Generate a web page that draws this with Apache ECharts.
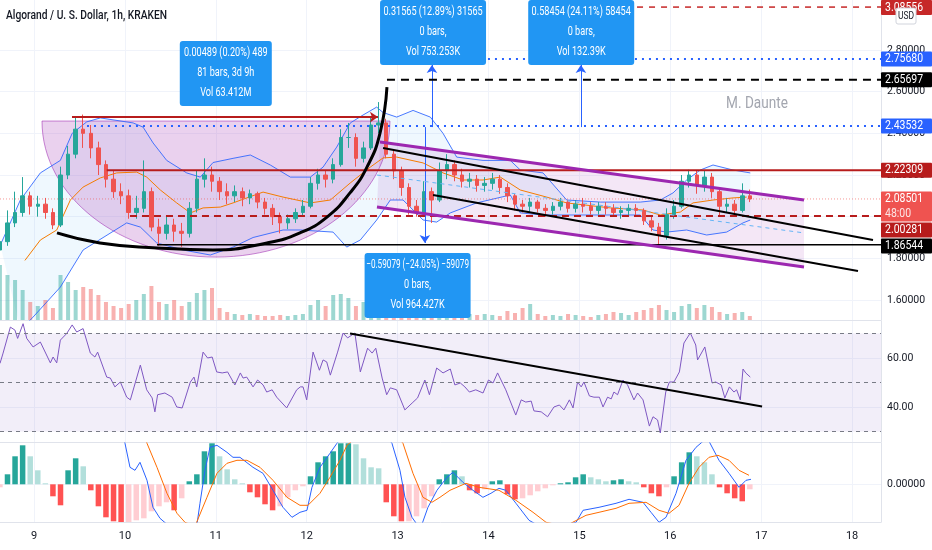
<!DOCTYPE html>
<html>
<head>
<meta charset="utf-8">
<script src="https://cdn.jsdelivr.net/npm/echarts@6/dist/echarts.min.js"></script>
<style>
  html, body { margin: 0; padding: 0; background: #fff; }
  #chart { width: 932px; height: 550px; }
</style>
</head>
<body>
<div id="chart"></div>
<script>
var FONT = "Roboto, 'Noto Sans', sans-serif";
var NARROW = 0.76;

// --- time axis (days of the month) ---
var xMin = 8.626, xMax = 18.318;
var dayTicks = [9, 10, 11, 12, 13, 14, 15, 16, 17, 18];
var firstBar = 8.625, barStep = 1 / 12;   // 2h bars

// --- value axes ---
var priceTicks = [1.6, 1.8, 2.0, 2.2, 2.4, 2.6, 2.8];
var rsiTicks = [40, 60];
var rsiLevels = [70, 50, 30];
var macdTicks = [0];

// [open, close, low, high]
var candles = [
  [1.84, 1.88, 1.78, 1.92], [1.88, 1.97, 1.86, 2.03], [1.97, 2.02, 1.95, 2.12], [2.02, 2.10, 2.00, 2.19],
  [2.10, 2.05, 2.01, 2.12], [2.05, 2.06, 2.00, 2.10], [2.06, 2.02, 1.99, 2.09], [2.02, 1.96, 1.94, 2.04],
  [1.96, 2.20, 1.95, 2.24], [2.20, 2.30, 2.18, 2.34], [2.30, 2.42, 2.28, 2.48], [2.42, 2.40, 2.33, 2.49],
  [2.40, 2.33, 2.28, 2.44], [2.33, 2.25, 2.20, 2.36], [2.25, 2.18, 2.14, 2.27], [2.18, 2.12, 2.09, 2.22],
  [2.12, 2.10, 2.06, 2.16], [2.10, 2.02, 1.99, 2.13], [2.02, 2.04, 1.99, 2.10], [2.04, 2.12, 2.02, 2.27],
  [2.12, 1.95, 1.93, 2.14], [1.95, 1.92, 1.86, 1.99], [1.92, 1.96, 1.89, 2.00], [1.96, 1.93, 1.88, 1.99],
  [1.93, 1.92, 1.855, 1.97], [1.92, 2.04, 1.90, 2.07], [2.04, 2.18, 2.02, 2.22], [2.18, 2.20, 2.14, 2.28],
  [2.20, 2.17, 2.12, 2.24], [2.17, 2.12, 2.08, 2.19], [2.12, 2.10, 2.06, 2.16], [2.10, 2.12, 2.07, 2.15],
  [2.12, 2.09, 2.05, 2.14], [2.09, 2.11, 2.06, 2.13], [2.11, 2.07, 2.04, 2.12], [2.07, 2.04, 2.01, 2.09],
  [2.04, 2.00, 1.96, 2.06], [2.00, 1.97, 1.92, 2.02], [1.97, 1.99, 1.94, 2.01], [1.99, 2.02, 1.97, 2.04],
  [2.02, 2.05, 2.00, 2.08], [2.05, 2.16, 2.04, 2.19], [2.16, 2.20, 2.13, 2.23], [2.20, 2.18, 2.14, 2.22],
  [2.18, 2.25, 2.16, 2.28], [2.25, 2.38, 2.24, 2.42], [2.38, 2.38, 2.33, 2.45], [2.38, 2.28, 2.24, 2.40],
  [2.28, 2.33, 2.26, 2.36], [2.33, 2.44, 2.32, 2.48], [2.44, 2.45, 2.40, 2.55], [2.45, 2.30, 2.28, 2.47],
  [2.30, 2.22, 2.18, 2.32], [2.22, 2.14, 2.10, 2.24], [2.14, 2.05, 2.01, 2.16], [2.05, 2.02, 2.00, 2.08],
  [2.02, 2.12, 2.01, 2.17], [2.12, 2.08, 1.97, 2.14], [2.08, 2.22, 2.07, 2.26], [2.22, 2.25, 2.18, 2.30],
  [2.25, 2.20, 2.17, 2.27], [2.20, 2.17, 2.14, 2.23], [2.17, 2.18, 2.14, 2.21], [2.18, 2.15, 2.12, 2.20],
  [2.15, 2.16, 2.12, 2.19], [2.16, 2.18, 2.13, 2.21], [2.18, 2.14, 2.11, 2.20], [2.14, 2.10, 2.07, 2.16],
  [2.10, 2.06, 2.03, 2.11], [2.06, 2.05, 2.02, 2.08], [2.05, 2.07, 2.02, 2.09], [2.07, 2.04, 2.02, 2.08],
  [2.04, 2.03, 2.00, 2.06], [2.03, 2.05, 2.01, 2.07], [2.05, 2.07, 2.03, 2.09], [2.07, 2.04, 2.02, 2.08],
  [2.04, 2.06, 2.02, 2.08], [2.06, 2.05, 2.02, 2.09], [2.05, 2.03, 2.01, 2.07], [2.03, 2.05, 2.01, 2.07],
  [2.05, 2.04, 2.01, 2.07], [2.04, 2.02, 2.00, 2.06], [2.02, 2.03, 1.99, 2.05], [2.03, 2.04, 2.00, 2.06],
  [2.04, 2.03, 2.00, 2.06], [2.03, 1.98, 1.96, 2.04], [1.98, 1.95, 1.93, 2.00], [1.95, 1.91, 1.855, 1.97],
  [1.91, 2.01, 1.89, 2.04], [2.01, 2.05, 1.99, 2.08], [2.05, 2.17, 2.04, 2.20], [2.17, 2.20, 2.14, 2.225],
  [2.20, 2.15, 2.11, 2.22], [2.15, 2.19, 2.12, 2.22], [2.19, 2.12, 2.09, 2.21], [2.12, 2.05, 2.00, 2.13],
  [2.05, 2.06, 2.02, 2.09], [2.06, 2.03, 2.00, 2.08], [2.03, 2.10, 2.02, 2.16], [2.10, 2.085, 2.07, 2.13]
];

// volume per bar, K
var volumes = [
  550, 450, 400, 300, 180, 140, 200, 120, 450, 380,
  300, 330, 310, 250, 180, 140, 120, 160, 200, 260,
  340, 180, 160, 200, 140, 180, 270, 300, 320, 120,
  80, 60, 50, 60, 50, 40, 40, 50, 40, 50,
  60, 150, 200, 140, 250, 260, 220, 140, 180, 300,
  280, 200, 180, 140, 120, 100, 220, 160, 180, 140,
  120, 80, 60, 50, 60, 50, 40, 90, 70, 120,
  160, 60, 40, 50, 40, 60, 50, 40, 30, 50,
  60, 80, 70, 50, 80, 100, 120, 150, 100, 80,
  140, 160, 120, 150, 130, 80, 60, 70, 80, 40
];

// MACD histogram per bar, x 0.001
var macdHist = [
  -3, 10, 28, 39, 28, 14, 1, -12, -21, 14,
  26, 18, -6, -22, -33, -37, -38, -38, -36, -34,
  -27, -22, -18, -26, -14, 3, 10, 33, 41, 28,
  15, 5, 1, -8, -13, -20, -26, -22, -13, -6,
  -2, 8, 22, 28, 33, 41, 41, 40, 26, 17,
  16, -18, -32, -37, -37, -32, -24, -12, 5, 10,
  14, 8, -6, -9, -5, 3, 4, -10, -15, -14,
  -11, -7, -4, -1, 1, 2, 7, 10, 7, 5,
  3, 4, 5, 3, 2, -3, -9, -12, -3, 8,
  22, 32, 28, 22, 10, -3, -9, -14, -17, -5
];

// Bollinger bands [day, price]
var bbUpper = [
  [8.63, 1.864], [8.85, 2.08], [9.07, 2.21], [9.29, 2.27], [9.42, 2.40], [9.58, 2.455], [9.73, 2.474],
  [10.09, 2.45], [10.20, 2.43], [10.31, 2.354], [10.46, 2.27], [10.68, 2.21], [10.83, 2.19], [10.97, 2.26],
  [11.19, 2.28], [11.38, 2.296], [11.60, 2.248], [11.82, 2.19], [12.04, 2.19], [12.18, 2.238], [12.33, 2.334],
  [12.48, 2.45], [12.62, 2.488], [12.77, 2.526], [12.84, 2.50], [12.99, 2.478], [13.17, 2.51], [13.36, 2.478],
  [13.50, 2.40], [13.65, 2.286], [13.94, 2.27], [14.24, 2.27], [14.35, 2.224], [14.60, 2.21], [14.86, 2.08],
  [15.23, 2.07], [15.67, 2.07], [15.89, 2.08], [16.03, 2.114], [16.18, 2.176], [16.33, 2.224], [16.47, 2.248],
  [16.69, 2.224], [16.88, 2.21]
];
var bbLower = [
  [8.85, 1.456], [8.99, 1.518], [9.29, 1.662], [9.54, 1.84], [10.02, 1.97], [10.17, 1.95], [10.35, 1.874],
  [10.64, 1.84], [10.94, 1.816], [11.19, 1.854], [11.41, 1.90], [11.74, 1.936], [11.93, 1.936], [12.29, 1.926],
  [12.44, 1.854], [12.59, 1.888], [12.77, 1.984], [12.92, 2.08], [13.06, 2.08], [13.28, 1.984], [13.43, 1.974],
  [13.58, 2.018], [13.87, 2.066], [14.24, 2.104], [14.35, 2.018], [14.60, 2.008], [14.93, 2.008], [15.67, 2.008],
  [15.81, 1.936], [15.96, 1.926], [16.18, 1.936], [16.40, 1.912], [16.62, 1.926], [16.80, 1.97], [16.88, 1.984]
];
var bbBasis = [
  [8.90, 1.79], [9.07, 1.888], [9.25, 1.936], [9.40, 2.08], [9.54, 2.142], [9.73, 2.186], [9.91, 2.21],
  [10.13, 2.214], [10.24, 2.19], [10.39, 2.128], [10.57, 2.066], [10.72, 2.018], [10.86, 2.042], [11.05, 2.046],
  [11.19, 2.066], [11.34, 2.09], [11.52, 2.118], [11.74, 2.094], [12.04, 2.066], [12.26, 2.08], [12.48, 2.162],
  [12.70, 2.238], [12.84, 2.282], [12.99, 2.286], [13.28, 2.258], [13.50, 2.21], [13.72, 2.176], [13.94, 2.176],
  [14.13, 2.19], [14.35, 2.128], [14.64, 2.094], [14.86, 2.066], [15.34, 2.042], [15.70, 2.032], [15.89, 2.008],
  [16.11, 2.022], [16.25, 2.066], [16.47, 2.08], [16.69, 2.09], [16.84, 2.094]
];

// RSI [day, value]
var rsiLine = [
  [8.626, 57.8], [8.66, 62], [8.74, 72.6], [8.79, 71.4], [8.82, 68], [8.88, 74], [8.92, 68], [8.99, 64.5],
  [9.07, 66.5], [9.18, 58], [9.21, 60.4], [9.25, 58], [9.29, 67.3], [9.36, 70], [9.42, 73.5], [9.47, 70.6],
  [9.54, 72], [9.62, 62], [9.67, 60.4], [9.70, 62.4], [9.80, 52.2], [9.84, 51.8], [9.89, 48.2], [9.95, 50.2],
  [10.02, 44], [10.06, 42.9], [10.17, 57.1], [10.24, 47], [10.30, 43.7], [10.33, 38], [10.36, 45], [10.44, 45.7],
  [10.52, 44], [10.57, 40], [10.63, 39.6], [10.72, 50.2], [10.76, 52.2], [10.79, 48.2], [10.86, 62.4], [10.91, 60],
  [10.96, 60.4], [11.01, 54.3], [11.07, 53.9], [11.13, 54.3], [11.21, 49], [11.27, 53.9], [11.30, 51.8], [11.34, 52.2],
  [11.41, 48.2], [11.46, 51], [11.52, 49], [11.56, 46.1], [11.62, 47], [11.67, 44], [11.78, 39.6], [11.89, 47],
  [11.93, 48.2], [11.96, 48.2], [12.00, 42.9], [12.07, 62.4], [12.14, 55], [12.18, 59.2], [12.22, 58.4], [12.26, 53],
  [12.34, 62.4], [12.40, 70.2], [12.45, 68.2], [12.53, 70.2], [12.59, 54.3], [12.67, 64], [12.72, 62], [12.76, 64],
  [12.83, 51.8], [12.88, 45], [12.92, 47.8], [12.99, 47], [13.08, 38.8], [13.16, 41.6], [13.22, 43.7], [13.30, 51],
  [13.35, 45], [13.43, 55.9], [13.50, 53.9], [13.58, 55.5], [13.63, 49], [13.69, 49.8], [13.74, 48.2], [13.79, 46.1],
  [13.86, 47], [13.94, 45.7], [14.00, 51], [14.05, 49.8], [14.10, 53.9], [14.19, 47], [14.30, 36.7], [14.36, 42.9],
  [14.41, 42], [14.47, 42.4], [14.50, 38.4], [14.58, 38], [14.65, 36], [14.72, 40], [14.78, 40.8], [14.83, 38.8],
  [14.89, 42.9], [14.93, 39.6], [14.98, 50.2], [15.02, 48.2], [15.05, 50.2], [15.11, 44.5], [15.16, 44], [15.22, 44],
  [15.26, 40], [15.31, 44], [15.35, 43.3], [15.38, 46.1], [15.42, 45], [15.48, 51], [15.53, 49], [15.60, 42.9],
  [15.64, 45.7], [15.70, 42.9], [15.77, 32.2], [15.81, 36], [15.86, 34.7], [15.89, 29.4], [15.95, 46.1], [15.99, 50.2],
  [16.04, 50.2], [16.10, 54.3], [16.15, 66.1], [16.22, 70.2], [16.28, 65.3], [16.30, 59.2], [16.38, 64.5], [16.46, 49.8],
  [16.50, 50.2], [16.56, 49], [16.60, 43.7], [16.65, 48.2], [16.70, 46.1], [16.73, 47], [16.77, 42.9], [16.80, 55.5],
  [16.83, 53.9], [16.88, 52.2]
];

// MACD and signal [day, x0.001]
var macdLine = [
  [8.626, 60], [9.946, 60], [10.001, 41], [10.056, 17], [10.111, 14], [10.166, 22], [10.243, 4], [10.309, -23],
  [10.386, -34], [10.463, -40], [10.606, -50], [10.793, -40], [10.826, -19], [10.881, 14], [10.936, 37], [11.013, 39],
  [11.123, 32], [11.189, 27], [11.266, 27], [11.409, 17], [11.519, 11], [11.629, -6], [11.739, -23], [11.838, -33],
  [11.926, -28], [12.003, -26], [12.058, -3], [12.146, 17], [12.256, 31], [12.333, 41], [12.476, 55], [12.806, 55],
  [12.938, 41], [13.026, 14], [13.081, -13], [13.158, -33], [13.213, -40], [13.268, -40], [13.334, -23], [13.433, -6],
  [13.543, 7], [13.609, 12], [13.719, 2], [13.829, -6], [13.939, -13], [14.027, -9], [14.115, -4], [14.192, -6],
  [14.302, -19], [14.446, -36], [14.622, -45], [14.963, -38], [15.040, -26], [15.216, -23], [15.403, -19], [15.546, -15],
  [15.700, -18], [15.788, -28], [15.876, -38], [15.953, -33], [16.063, -9], [16.173, 24], [16.283, 37], [16.360, 43],
  [16.426, 43], [16.536, 24], [16.646, 11], [16.756, -3], [16.833, 4], [16.888, 5]
];
var signalLine = [
  [8.626, 60], [10.166, 60], [10.243, 41], [10.353, 17], [10.463, -9], [10.573, -29], [10.661, -38], [10.771, -42],
  [10.903, -13], [11.013, 11], [11.123, 21], [11.233, 24], [11.343, 24], [11.486, 17], [11.629, 4], [11.783, -13],
  [11.926, -21], [12.014, -21], [12.146, -9], [12.256, 7], [12.366, 24], [12.443, 39], [12.586, 50], [12.971, 50],
  [13.059, 41], [13.169, 11], [13.279, -13], [13.378, -18], [13.466, -13], [13.576, -6], [13.752, 1], [13.895, -3],
  [14.115, -6], [14.302, -16], [14.490, -28], [14.633, -38], [14.842, -42], [15.073, -31], [15.216, -28], [15.403, -24],
  [15.546, -19], [15.733, -18], [15.876, -26], [15.986, -29], [16.096, -21], [16.206, 1], [16.316, 17], [16.426, 27],
  [16.525, 29], [16.646, 24], [16.756, 14], [16.866, 9]
];

// --- drawings on the price pane ---
var cupCurve = [
  [9.253, 1.922], [9.726, 1.874], [10.353, 1.85], [10.969, 1.84], [11.563, 1.874], [11.926, 1.922],
  [12.223, 1.998], [12.476, 2.114], [12.663, 2.238], [12.806, 2.40], [12.883, 2.622]
];
var cupArcLeft = [9.088, 2.459], cupArcBottom = [11.0, 1.806], cupArcRight = [12.916, 2.459];
var cupTop = [[9.418, 2.478], [12.784, 2.478]];
var channelTop = [[12.806, 2.358], [17.471, 2.08]];
var channelBottom = [[12.773, 2.046], [17.471, 1.758]];
var channelMid = [[12.773, 2.20], [17.471, 1.922]];
var trendUpper = [[12.84, 2.33], [18.23, 1.888]];
var trendLower = [[13.39, 2.104], [18.065, 1.739]];
var rsiTrend = [[12.477, 70], [17.01, 40.2]];
var measures = [
  [[13.378, 2.43], [13.378, 2.728]],
  [[13.30, 2.43], [13.30, 1.874]],
  [[15.017, 2.43], [15.017, 2.728]]
];

var levelPrices = [3.006, 2.7568, 2.65697, 2.43532, 2.22309, 2.00281, 1.86544];
var levelStarts = [15.106, 12.916, 12.883, 9.583, 9.80, 10.056, 10.353];
var levelTags = ['3.08556', '2.75680', '2.65697', '2.43532', '2.22309', '2.00281', '1.86544'];
var levelStyle = [
  { color: '#c62828', type: [6, 6], width: 1.5 },
  { color: '#2962ff', type: [2, 5], width: 2 },
  { color: '#000000', type: [8, 6], width: 2 },
  { color: '#2962ff', type: [2, 5], width: 2 },
  { color: '#b71c1c', type: 'solid', width: 2 },
  { color: '#b71c1c', type: [7, 5], width: 2 },
  { color: '#000000', type: 'solid', width: 1.5 }
];
var lastPrice = 2.08501, countdown = '48:00';

var notes = [
  { at: [11.11, 2.843], edge: 'top', w: 92, lines: ['0.00489 (0.20%) 489', '81 bars, 3d 9h', 'Vol 63.412M'] },
  { at: [13.39, 2.728], edge: 'bottom', w: 106, lines: ['0.31565 (12.89%) 31565', '0 bars,', 'Vol 753.253K'] },
  { at: [15.02, 2.728], edge: 'bottom', w: 106, lines: ['0.58454 (24.11%) 58454', '0 bars,', 'Vol 132.39K'] },
  { at: [13.22, 1.826], edge: 'top', w: 106, lines: ['\u22120.59079 (\u221224.05%) \u221259079', '0 bars,', 'Vol 964.427K'] }
];

// ---------------------------------------------------------------
var chart = echarts.init(document.getElementById('chart'), null, { renderer: 'canvas' });

var UP = '#26a69a', DOWN = '#ef5350';
var candleData = candles.map(function(c, i) { return [firstBar + i * barStep, c[0], c[1], c[2], c[3]]; });
var volumeData = volumes.map(function(v, i) {
  var c = candles[i];
  return { value: [firstBar + i * barStep, v], itemStyle: { color: c[1] >= c[0] ? 'rgba(38,166,154,0.45)' : 'rgba(239,83,80,0.45)' } };
});
var histData = macdHist.map(function(v, i) {
  var prev = i > 0 ? macdHist[i - 1] : v;
  var col = v >= 0 ? (v >= prev ? '#26a69a' : '#b2dfdb') : (v < prev ? '#ff5252' : '#ffcdd2');
  return { value: [firstBar + i * barStep, v], itemStyle: { color: col } };
});

function line(data, color, width, type, z, extra) {
  var s = {
    type: 'line', xAxisIndex: 0, yAxisIndex: 0, data: data, symbol: 'none', silent: true,
    lineStyle: { color: color, width: width, type: type || 'solid' }, z: z || 5
  };
  for (var k in extra) s[k] = extra[k];
  return s;
}

function polygon(points, fill, stroke, z) {
  return {
    type: 'custom', xAxisIndex: 0, yAxisIndex: 0, silent: true, z: z || 1, clip: true,
    data: [[xMin, 2]], encode: { x: 0, y: 1 },
    renderItem: function(params, api) {
      return {
        type: 'polygon',
        shape: { points: points.map(function(p) { return api.coord(p); }) },
        style: { fill: fill, stroke: stroke || null, lineWidth: 1 }
      };
    }
  };
}

var bbPoly = bbUpper.concat(bbLower.slice().reverse());
var channelPoly = [channelTop[0], channelTop[1], channelBottom[1], channelBottom[0]];

var cupArcSeries = {
  type: 'custom', xAxisIndex: 0, yAxisIndex: 0, silent: true, z: 1, clip: true,
  data: [[xMin, 2]], encode: { x: 0, y: 1 },
  renderItem: function(params, api) {
    var a = api.coord(cupArcLeft), b = api.coord(cupArcBottom), c = api.coord(cupArcRight);
    var k = 0.5523, cx = b[0], rxL = b[0] - a[0], rxR = c[0] - b[0], by = b[1], ry = b[1] - a[1];
    var d = 'M' + a[0] + ' ' + a[1] +
      ' C' + a[0] + ' ' + (a[1] + k * ry) + ' ' + (cx - k * rxL) + ' ' + by + ' ' + cx + ' ' + by +
      ' C' + (cx + k * rxR) + ' ' + by + ' ' + c[0] + ' ' + (c[1] + k * ry) + ' ' + c[0] + ' ' + c[1] + ' Z';
    return {
      type: 'path', shape: { pathData: d },
      style: { fill: 'rgba(186,104,200,0.30)', stroke: 'rgba(156,39,176,0.55)', lineWidth: 1 }
    };
  }
};

var levelSeries = levelPrices.map(function(p, i) {
  var st = levelStyle[i];
  return line([[levelStarts[i], p], [xMax, p]], st.color, st.width, st.type, 6);
});

var arrowLines = [
  [{ coord: cupTop[0], lineStyle: { color: '#b71c1c', width: 2, type: 'solid' } }, { coord: cupTop[1] }]
].concat(measures.map(function(m) {
  return [{ coord: m[0], lineStyle: { color: '#2962ff', width: 1, type: 'solid' } }, { coord: m[1] }];
}));

function xAxisFor(grid, showLabel) {
  return {
    type: 'value', gridIndex: grid, min: xMin, max: xMax,
    axisLine: { show: true, onZero: false, lineStyle: { color: '#e0e3eb', width: 1 } },
    axisTick: { show: false, customValues: dayTicks },
    axisLabel: {
      show: showLabel, customValues: dayTicks, color: '#131722', fontSize: 11, fontFamily: FONT, margin: 9,
      formatter: function(v) { return String(Math.round(v)); }
    },
    splitLine: { show: true, lineStyle: { color: '#f0f3fa', width: 1 } }
  };
}

function yAxisFor(grid, min, max, ticks, fmt) {
  return {
    type: 'value', gridIndex: grid, position: 'right', min: min, max: max,
    axisLine: { show: true, lineStyle: { color: '#e0e3eb', width: 1 } },
    axisTick: { show: false, customValues: ticks },
    axisLabel: { customValues: ticks, color: '#131722', fontSize: 10.5, fontFamily: FONT, margin: 6, formatter: fmt },
    splitLine: { show: true, lineStyle: { color: '#f0f3fa', width: 1 } }
  };
}

chart.setOption({
  animation: false,
  backgroundColor: '#ffffff',
  grid: [
    { left: 0, right: 51, top: 0, height: 320 },
    { left: 0, right: 51, top: 321, height: 121 },
    { left: 0, right: 51, top: 443, height: 79 }
  ],
  xAxis: [xAxisFor(0, false), xAxisFor(1, false), xAxisFor(2, true)],
  yAxis: [
    yAxisFor(0, 1.504, 3.04, priceTicks, function(v) { return v.toFixed(5); }),
    { type: 'value', gridIndex: 0, min: 0, max: 3200, show: false, splitLine: { show: false } },
    yAxisFor(1, 25.7, 75.1, rsiTicks, function(v) { return v.toFixed(2); }),
    yAxisFor(2, -37.7, 41.3, macdTicks, function(v) { return (v / 1000).toFixed(5); })
  ],
  series: [
    polygon(bbPoly, 'rgba(33,150,243,0.07)', null, 1),
    cupArcSeries,
    polygon(channelPoly, 'rgba(156,39,176,0.11)', null, 1),
    {
      type: 'bar', xAxisIndex: 0, yAxisIndex: 1, data: volumeData, barWidth: 4, silent: true, z: 2
    },
    line(bbUpper, 'rgba(41,98,255,0.85)', 1, 'solid', 3),
    line(bbLower, 'rgba(41,98,255,0.85)', 1, 'solid', 3),
    line(bbBasis, '#f57c00', 1, 'solid', 3),
    {
      type: 'candlestick', xAxisIndex: 0, yAxisIndex: 0, data: candleData, silent: true, z: 4,
      encode: { x: 0, y: [1, 2, 3, 4] }, barWidth: 4,
      itemStyle: { color: UP, color0: DOWN, borderColor: UP, borderColor0: DOWN, borderWidth: 1 }
    },
    line([[xMin, lastPrice], [xMax, lastPrice]], 'rgba(239,83,80,0.6)', 1, [1, 2], 5)
  ].concat(levelSeries).concat([
    line(channelMid, '#64b5f6', 1, [4, 4], 6),
    line(channelTop, '#9c27b0', 3, 'solid', 6),
    line(channelBottom, '#9c27b0', 3, 'solid', 6),
    line(trendUpper, '#000000', 2, 'solid', 6),
    line(trendLower, '#000000', 2, 'solid', 6),
    line(cupCurve, '#000000', 3, 'solid', 7, {
      smooth: 0.5,
      markLine: {
        silent: true, symbol: ['none', 'arrow'], symbolSize: 8, label: { show: false },
        data: arrowLines
      }
    }),
    // RSI pane
    {
      type: 'line', xAxisIndex: 1, yAxisIndex: 2, data: rsiLine, symbol: 'none', silent: true, z: 4,
      lineStyle: { color: '#7e57c2', width: 1 },
      markArea: { silent: true, itemStyle: { color: 'rgba(126,87,194,0.10)' }, data: [[{ yAxis: 70 }, { yAxis: 30 }]] },
      markLine: {
        silent: true, symbol: 'none', label: { show: false },
        lineStyle: { color: '#787b86', type: [4, 4], width: 1 },
        data: rsiLevels.map(function(v) { return { yAxis: v }; })
      }
    },
    {
      type: 'line', xAxisIndex: 1, yAxisIndex: 2, data: rsiTrend, symbol: 'none', silent: true, z: 5,
      lineStyle: { color: '#000000', width: 2 }
    },
    // MACD pane
    { type: 'bar', xAxisIndex: 2, yAxisIndex: 3, data: histData, barWidth: 5.5, silent: true, z: 2 },
    {
      type: 'line', xAxisIndex: 2, yAxisIndex: 3, data: macdLine, symbol: 'none', silent: true, z: 4,
      lineStyle: { color: '#2962ff', width: 1 }
    },
    {
      type: 'line', xAxisIndex: 2, yAxisIndex: 3, data: signalLine, symbol: 'none', silent: true, z: 4,
      lineStyle: { color: '#ff6d00', width: 1 }
    }
  ])
});

// --- overlays: price tags, measurement boxes, captions ---
function px(pt) { return chart.convertToPixel({ xAxisIndex: 0, yAxisIndex: 0 }, pt); }

function label(text, x, y, size, color, align, squeeze, z, weight) {
  return {
    type: 'text', z: z, x: x, y: y, scaleX: squeeze,
    style: { text: text, fill: color, fontSize: size, fontFamily: FONT, fontWeight: weight || 'normal', align: align, verticalAlign: 'middle' }
  };
}

var g = [];
var tagX = 881, tagW = 51, tagH = 15;
var tags = levelPrices.map(function(p, i) {
  return { y: px([xMin, p])[1], lines: [levelTags[i]], color: i === 0 ? '#c62828' : levelStyle[i].color };
});
tags.push({ y: px([xMin, lastPrice])[1], lines: [lastPrice.toFixed(5), countdown], color: '#ef5350' });
tags.sort(function(a, b) { return a.y - b.y; });
var prevBottom = -100;
tags.forEach(function(t) {
  var h = tagH * t.lines.length;
  var top = Math.max(t.y - tagH / 2, prevBottom + 1, 0);
  prevBottom = top + h;
  g.push({ type: 'rect', z: 100, shape: { x: tagX, y: top, width: tagW, height: h, r: 1 }, style: { fill: t.color } });
  t.lines.forEach(function(s, k) {
    g.push(label(s, tagX + 4, top + tagH / 2 + k * tagH, 12.5, k === 0 ? '#ffffff' : 'rgba(255,255,255,0.85)', 'left', 0.84, 101));
  });
});

g.push({ type: 'rect', z: 110, shape: { x: 896, y: 8, width: 20, height: 16, r: 2 }, style: { fill: '#ffffff', stroke: '#d1d4dc', lineWidth: 1 } });
g.push(label('USD', 906, 16.5, 10, '#131722', 'center', 0.85, 111));

notes.forEach(function(n) {
  var p = px(n.at), h = 65;
  var top = n.edge === 'top' ? p[1] : p[1] - h;
  g.push({ type: 'rect', z: 50, shape: { x: p[0] - n.w / 2, y: top, width: n.w, height: h, r: 3 }, style: { fill: '#2196f3' } });
  n.lines.forEach(function(s, k) {
    var squeeze = s.length > 22 ? 0.68 : NARROW;
    g.push(label(s, p[0], top + 12 + k * 20, 12, '#ffffff', 'center', squeeze, 51));
  });
});

g.push(label('Algorand / U. S. Dollar, 1h, KRAKEN', 6, 16, 13.5, '#131722', 'left', 0.76, 60, 500));
g.push(label('M. Daunte', 757, 104, 17, '#a3a6af', 'center', 0.8, 60));

chart.setOption({ graphic: g });
</script>
</body>
</html>
